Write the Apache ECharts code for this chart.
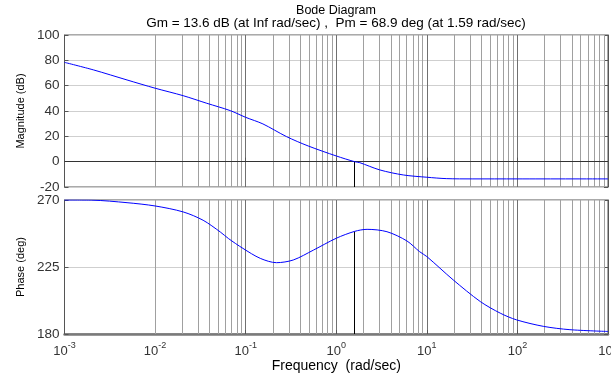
<!DOCTYPE html>
<html><head><meta charset="utf-8">
<script src="https://cdn.jsdelivr.net/npm/echarts@6/dist/echarts.min.js"></script>
<style>html,body{margin:0;padding:0;background:#fff}#c{width:611px;height:376px}</style>
</head><body><div id="c"></div>
<script>
// ---- data ----
const magFreq = [0.001, 0.0021, 0.0049, 0.01, 0.0204, 0.0372, 0.0676, 0.1, 0.155, 0.282, 0.49, 1.0, 1.59, 1.82, 3.02, 5.5, 10, 16.6, 31.6, 100, 1000];
const magDb   = [78.4, 72.4, 64.5, 58.0, 52.1, 46.1, 40.3, 35.0, 29.8, 19.8, 12.4, 4.5, 0.0, -0.8, -6.5, -10.5, -12.3, -13.4, -13.6, -13.6, -13.6];
const phaseFreq = [0.001, 0.002, 0.0049, 0.01, 0.0204, 0.0339, 0.0525, 0.0646, 0.0933, 0.145, 0.219, 0.335, 0.562, 1.0, 1.59, 2.19, 3.63, 6.03, 8.32, 10, 19.5, 38.9, 64.6, 97.7, 195, 380, 1000];
const phaseDeg  = [270, 269.9, 268.2, 266, 262, 256.4, 248.5, 244.1, 237.5, 230.8, 227.9, 229.7, 236.4, 244.3, 248.9, 250.3, 248.7, 242.5, 235.3, 232, 216.4, 201.8, 194, 189.5, 185.1, 182.9, 181.7];
const magTicks = [-20, 0, 20, 40, 60, 80, 100];
const phaseTicks = [180, 225, 270];
const decades = [0.001, 0.01, 0.1, 1, 10, 100, 1000];
const minorMults = [2, 3, 4, 5, 6, 7, 8, 9];
const pmFreq = 1.59;
const pmPhase = 248.9;
const titleText = 'Bode Diagram';
const subText = 'Gm = 13.6 dB (at Inf rad/sec) ,  Pm = 68.9 deg (at 1.59 rad/sec)';
const magName = 'Magnitude (dB)';
const phaseName = 'Phase (deg)';
const freqName = 'Frequency  (rad/sec)';

// ---- chart ----
const FONT = "'Liberation Sans', Arial, sans-serif";
const chart = echarts.init(document.getElementById('c'), null, {renderer: 'canvas'});
const zip = (a, b) => a.map((v, i) => [v, b[i]]);
const minorLines = [];
decades.slice(0, -1).forEach(d => minorMults.forEach(m => minorLines.push({xAxis: +(d * m).toPrecision(3)})));

const grids = [
  {left: 64.5, right: 3, top: 35, height: 152},
  {left: 64.5, right: 3, top: 200, height: 134}
];

function xAxisCfg(idx, showLabels) {
  return {
    type: 'log', logBase: 10, gridIndex: idx, min: decades[0], max: decades[decades.length - 1],
    axisLine: {show: true, lineStyle: {color: idx === 1 ? '#7a7a7a' : '#555', width: idx === 1 ? 2.5 : 1}},
    axisTick: {show: true, inside: true, length: 4, lineStyle: {color: '#555'}},
    splitLine: {show: true, lineStyle: {color: '#707070', width: 1}},
    axisLabel: showLabels ? {
      show: true, margin: 7, alignMinLabel: 'center', alignMaxLabel: 'center', hideOverlap: false,
      formatter: v => '{b|10}{s|' + Math.round(Math.log10(v)) + '}',
      rich: {
        b: {fontSize: 13, fontFamily: FONT, color: '#333', verticalAlign: 'bottom', lineHeight: 17},
        s: {fontSize: 9, fontFamily: FONT, color: '#333', verticalAlign: 'bottom', lineHeight: 17, padding: [0, 0, 8, 0]}
      }
    } : {show: false},
    name: showLabels ? freqName : '',
    nameLocation: 'middle', nameGap: 25,
    nameTextStyle: {fontSize: 14, fontFamily: FONT, color: '#000'}
  };
}

function yAxisCfg(idx, min, max, interval, name, gap) {
  return {
    type: 'value', gridIndex: idx, min, max, interval,
    axisLine: {show: true, lineStyle: {color: '#555'}},
    axisTick: {show: true, inside: true, length: 4, lineStyle: {color: '#555'}},
    splitLine: {show: true, lineStyle: {color: '#cfcfcf', width: 1}},
    axisLabel: {fontSize: 13.5, fontFamily: FONT, color: '#333', margin: 5},
    name, nameLocation: 'middle', nameGap: gap, nameRotate: 90,
    nameTextStyle: {fontSize: 11, fontFamily: FONT, color: '#000'}
  };
}
function yRightCfg(idx, min, max, interval) {
  return {
    type: 'value', gridIndex: idx, min, max, interval, position: 'right',
    axisLine: {show: true, lineStyle: {color: '#555'}},
    axisTick: {show: true, inside: true, length: 4, lineStyle: {color: '#555'}},
    splitLine: {show: false}, axisLabel: {show: false}
  };
}

const noLbl = {show: false};
const option = {
  animation: false,
  backgroundColor: '#fff',
  title: [
    {text: titleText, left: 336, textAlign: 'center', top: 4, padding: 0,
     textStyle: {fontSize: 12.5, fontWeight: 'normal', fontFamily: FONT, color: '#000'}},
    {text: subText, left: 336, textAlign: 'center', top: 16, padding: 0,
     textStyle: {fontSize: 13.5, fontWeight: 'normal', fontFamily: FONT, color: '#000'}}
  ],
  grid: grids.map(g => Object.assign({show: true, borderColor: '#555', borderWidth: 1, backgroundColor: 'transparent', outerBoundsMode: 'none', containLabel: false}, g)),
  xAxis: [xAxisCfg(0, false), xAxisCfg(1, true)],
  yAxis: [
    yAxisCfg(0, magTicks[0], magTicks[magTicks.length - 1], magTicks[1] - magTicks[0], magName, 37),
    yAxisCfg(1, phaseTicks[0], phaseTicks[phaseTicks.length - 1], phaseTicks[1] - phaseTicks[0], phaseName, 37),
    yRightCfg(0, magTicks[0], magTicks[magTicks.length - 1], magTicks[1] - magTicks[0]),
    yRightCfg(1, phaseTicks[0], phaseTicks[phaseTicks.length - 1], phaseTicks[1] - phaseTicks[0])
  ],
  series: [
    {type: 'line', xAxisIndex: 0, yAxisIndex: 0, data: [], z: 1, silent: true,
     markLine: {silent: true, symbol: ['none', 'none'], label: noLbl, animation: false,
       lineStyle: {color: '#a0a0a0', width: 1, type: 'solid'}, data: minorLines}},
    {type: 'line', xAxisIndex: 1, yAxisIndex: 1, data: [], z: 1, silent: true,
     markLine: {silent: true, symbol: ['none', 'none'], label: noLbl, animation: false,
       lineStyle: {color: '#a0a0a0', width: 1, type: 'solid'}, data: minorLines}},
    {type: 'line', xAxisIndex: 0, yAxisIndex: 0, data: zip(magFreq, magDb), z: 5,
     showSymbol: false, smooth: 0.3, lineStyle: {color: '#0000ff', width: 1},
     markLine: {silent: true, symbol: ['none', 'none'], label: noLbl, animation: false,
       data: [
         {yAxis: 0, lineStyle: {color: '#333', width: 1, type: 'solid'}},
         [{coord: [pmFreq, magTicks[0]], lineStyle: {color: '#000', width: 1, type: 'solid'}}, {coord: [pmFreq, 0]}]
       ]}},
    {type: 'line', xAxisIndex: 1, yAxisIndex: 1, data: zip(phaseFreq, phaseDeg), z: 5,
     showSymbol: false, smooth: 0.3, lineStyle: {color: '#0000ff', width: 1},
     markLine: {silent: true, symbol: ['none', 'none'], label: noLbl, animation: false,
       data: [
         [{coord: [pmFreq, phaseTicks[0]], lineStyle: {color: '#000', width: 1, type: 'solid'}}, {coord: [pmFreq, pmPhase]}]
       ]}}
  ]
};
chart.setOption(option);
</script>
</body></html>
